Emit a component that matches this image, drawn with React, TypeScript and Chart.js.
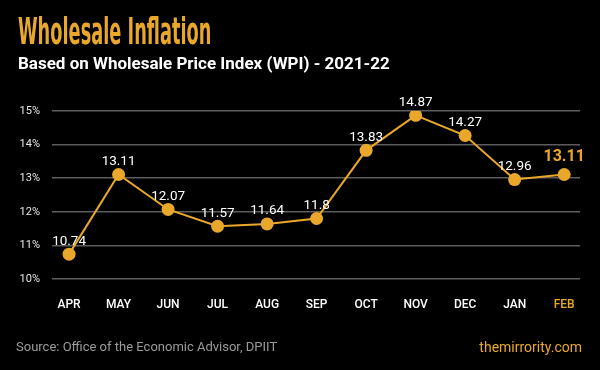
import React, { useEffect, useRef } from "react";
import { Chart, registerables } from "chart.js";

Chart.register(...registerables);

const months = ["APR", "MAY", "JUN", "JUL", "AUG", "SEP", "OCT", "NOV", "DEC", "JAN", "FEB"];
const wpi = [10.74, 13.11, 12.07, 11.57, 11.64, 11.8, 13.83, 14.87, 14.27, 12.96, 13.11];
const yTicks = [10, 11, 12, 13, 14, 15];

const ORANGE = "#E9A82B";

const valueLabels = {
  id: "valueLabels",
  afterDatasetsDraw(chart: any) {
    const ctx = chart.ctx;
    const meta = chart.getDatasetMeta(0);
    ctx.save();
    ctx.textAlign = "center";
    ctx.textBaseline = "middle";
    meta.data.forEach((pt: any, i: number) => {
      const last = i === wpi.length - 1;
      ctx.fillStyle = last ? ORANGE : "#ffffff";
      ctx.font = last ? "bold 16px Roboto" : "13.5px Roboto";
      ctx.fillText(String(wpi[i]), pt.x, pt.y - (last ? 18 : 13));
    });
    ctx.restore();
  },
};

export default function App() {
  const ref = useRef<HTMLCanvasElement>(null);
  useEffect(() => {
    const chart = new Chart(ref.current!, {
      type: "line",
      data: {
        datasets: [
          {
            data: wpi.map((v, i) => ({ x: i, y: v })),
            borderColor: ORANGE,
            backgroundColor: ORANGE,
            borderWidth: 2,
            pointRadius: 6.5,
            pointBackgroundColor: ORANGE,
            pointBorderWidth: 0,
            tension: 0,
          },
        ],
      },
      options: {
        animation: false,
        responsive: false,
        layout: { padding: { left: 0, right: 20, top: 111, bottom: 56 } },
        plugins: { legend: { display: false }, tooltip: { enabled: false } },
        scales: {
          x: {
            type: "linear",
            min: -0.345,
            max: 10.32,
            afterBuildTicks: (s: any) => {
              s.ticks = months.map((_, i) => ({ value: i }));
            },
            afterFit: (s: any) => {
              s.height = 35;
            },
            grid: { display: false },
            border: { display: false },
            ticks: {
              padding: 11,
              autoSkip: false,
              maxRotation: 0,
              callback: (v: any) => months[v],
              color: (c: any) => (c.index === months.length - 1 ? ORANGE : "#ffffff"),
              font: { family: "Roboto", size: 12, weight: "500" },
            },
          },
          y: {
            min: 10,
            max: 15,
            afterBuildTicks: (s: any) => {
              s.ticks = yTicks.map((v) => ({ value: v }));
            },
            afterFit: (s: any) => {
              s.width = 52;
            },
            grid: { color: "#5c5c5c", lineWidth: 1.5, drawTicks: false },
            border: { display: false },
            ticks: {
              padding: 12,
              color: "#e6e6e6",
              callback: (v: any) => v + "%",
              font: { family: "Roboto", size: 11 },
            },
          },
        },
      },
      plugins: [valueLabels],
    } as any);
    return () => chart.destroy();
  }, []);

  return (
    <div
      style={{
        position: "fixed",
        left: 0,
        top: 0,
        width: 600,
        height: 370,
        background: "#000",
        overflow: "hidden",
        fontFamily: "Roboto, sans-serif",
      }}
    >
      <canvas ref={ref} width={600} height={370} style={{ position: "absolute", left: 0, top: 0 }} />
      <div
        style={{
          position: "absolute",
          left: 18,
          top: 9,
          fontFamily: "'Liberation Sans Narrow', 'DejaVu Sans Condensed', sans-serif",
          fontWeight: 700,
          fontSize: 38,
          lineHeight: "44px",
          color: ORANGE,
          transform: "scaleX(0.52)",
          transformOrigin: "left top",
          whiteSpace: "nowrap",
        }}
      >
        Wholesale Inflation
      </div>
      <div
        style={{
          position: "absolute",
          left: 18,
          top: 52,
          fontWeight: 700,
          fontSize: 17,
          lineHeight: "22px",
          color: "#fff",
          whiteSpace: "nowrap",
        }}
      >
        Based on Wholesale Price Index (WPI) - 2021-22
      </div>
      <div
        style={{
          position: "absolute",
          left: 16,
          top: 339,
          fontSize: 13,
          lineHeight: "16px",
          color: "#9a9a9a",
          whiteSpace: "nowrap",
        }}
      >
        Source: Office of the Economic Advisor, DPIIT
      </div>
      <div
        style={{
          position: "absolute",
          right: 18,
          top: 338,
          fontSize: 14,
          lineHeight: "18px",
          color: ORANGE,
          whiteSpace: "nowrap",
        }}
      >
        themirrority.com
      </div>
    </div>
  );
}
